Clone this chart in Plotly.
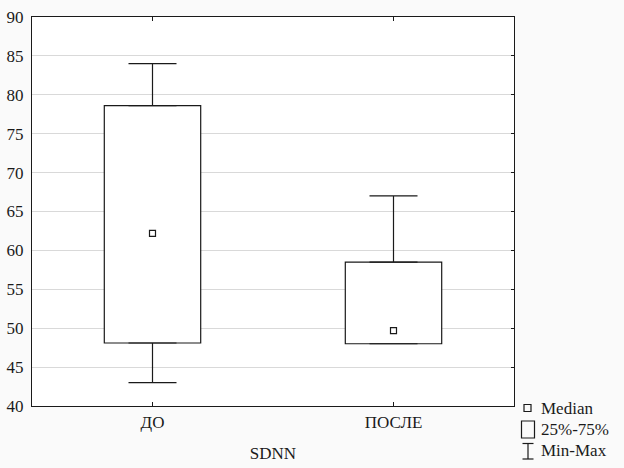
import plotly.graph_objects as go

# SDNN before / after
groups = ["ДО", "ПОСЛЕ"]
mins = [43.0, 48.0]
q1 = [48.1, 48.0]
medians = [62.2, 49.7]
q3 = [78.6, 58.5]
maxs = [84.0, 67.0]

y_ticks = [40, 45, 50, 55, 60, 65, 70, 75, 80, 85, 90]
legend_labels = ["Median", "25%-75%", "Min-Max"]

W, H = 624, 468
L, R, T, B = 32, 514, 17, 406
FONT = "Liberation Serif"
INK = "#1a1a1a"


def px_x(px):
    return (px - L) / (R - L)


def px_y(py):
    return (B - py) / (B - T)


fig = go.Figure()

# interquartile boxes
fig.add_trace(go.Bar(
    x=groups, y=[b - a for a, b in zip(q1, q3)], base=q1, width=0.4,
    marker=dict(color="white", line=dict(color=INK, width=1.2)),
    showlegend=False, hoverinfo="skip"))

# upper and lower whiskers
fig.add_trace(go.Scatter(
    x=groups, y=q3, mode="markers",
    marker=dict(size=1, color="rgba(0,0,0,0)"),
    error_y=dict(type="data", symmetric=False,
                 array=[m - q for m, q in zip(maxs, q3)], arrayminus=[0, 0],
                 width=24, thickness=1.2, color=INK),
    showlegend=False, hoverinfo="skip"))
fig.add_trace(go.Scatter(
    x=groups, y=q1, mode="markers",
    marker=dict(size=1, color="rgba(0,0,0,0)"),
    error_y=dict(type="data", symmetric=False,
                 array=[0, 0], arrayminus=[q - m for m, q in zip(mins, q1)],
                 width=24, thickness=1.2, color=INK),
    showlegend=False, hoverinfo="skip"))

# medians
fig.add_trace(go.Scatter(
    x=groups, y=medians, mode="markers",
    marker=dict(symbol="square-open", size=6, color=INK, line=dict(width=1.2)),
    showlegend=False))

# invisible copy on y2 so the right-hand ticks get drawn
fig.add_trace(go.Scatter(x=groups, y=medians, yaxis="y2", mode="markers",
                         marker=dict(size=1, color="rgba(0,0,0,0)"),
                         showlegend=False, hoverinfo="skip"))

# hand made legend, bottom right outside the frame
shapes = [
    dict(type="rect", xref="paper", yref="paper",
         x0=px_x(524), x1=px_x(531), y0=px_y(404.5), y1=px_y(411.5),
         line=dict(color=INK, width=1.2)),
    dict(type="rect", xref="paper", yref="paper",
         x0=px_x(521.5), x1=px_x(534.5), y0=px_y(421), y1=px_y(438),
         line=dict(color=INK, width=1.2)),
    dict(type="line", xref="paper", yref="paper",
         x0=px_x(528), x1=px_x(528), y0=px_y(443.5), y1=px_y(459),
         line=dict(color=INK, width=1.2)),
    dict(type="line", xref="paper", yref="paper",
         x0=px_x(522.5), x1=px_x(533.5), y0=px_y(443.5), y1=px_y(443.5),
         line=dict(color=INK, width=1.2)),
    dict(type="line", xref="paper", yref="paper",
         x0=px_x(522.5), x1=px_x(533.5), y0=px_y(459), y1=px_y(459),
         line=dict(color=INK, width=1.2)),
]
annotations = []
for label, cy in zip(legend_labels, [408, 429, 451]):
    annotations.append(dict(
        text=label, xref="paper", yref="paper", x=px_x(539), y=px_y(cy),
        xanchor="left", yanchor="middle", showarrow=False,
        font=dict(family=FONT, size=17, color=INK)))

fig.update_layout(
    width=W, height=H,
    margin=dict(l=L, r=W - R, t=T, b=H - B, autoexpand=False),
    paper_bgcolor="#fafafa", plot_bgcolor="white",
    font=dict(family=FONT, size=17, color=INK),
    shapes=shapes, annotations=annotations,
    showlegend=False,
    xaxis=dict(
        type="category", range=[-0.5, 1.5],
        showgrid=False, zeroline=False,
        showline=True, linecolor=INK, linewidth=1.3, mirror="ticks",
        ticks="inside", ticklen=4, tickcolor=INK,
        title=dict(text="SDNN", font=dict(family=FONT, size=17), standoff=16),
        automargin=False,
    ),
    yaxis=dict(
        range=[40, 90], tickvals=y_ticks,
        showgrid=True, gridcolor="#d9d9d9", gridwidth=1, zeroline=False,
        showline=True, linecolor=INK, linewidth=1.3, mirror=True,
        ticks="", ticklabelstandoff=4, automargin=False,
    ),
    yaxis2=dict(
        range=[40, 90], tickvals=y_ticks, overlaying="y", side="right",
        showgrid=False, zeroline=False, showticklabels=False,
        ticks="inside", ticklen=3, tickcolor=INK, automargin=False,
    ),
)

fig.write_html("out.html", config={"displayModeBar": False},
               post_script="document.body.style.margin='0';")
